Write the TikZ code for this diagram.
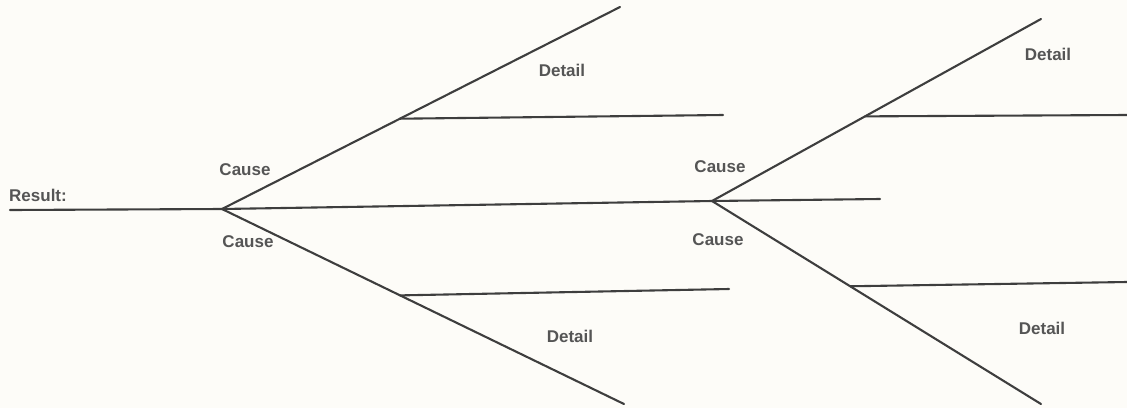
\documentclass[tikz,border=0pt]{standalone}
\usepackage{fontspec}
\setmainfont{Liberation Sans}
\usetikzlibrary{calc}
\definecolor{ink}{HTML}{3E3E3E}
\definecolor{txt}{HTML}{555555}
\definecolor{paper}{HTML}{FDFCF8}
\begin{document}
\begin{tikzpicture}[x=1pt,y=-1pt,
  bone/.style={draw=ink,line width=2.1pt,line cap=round},
  lbl/.style={text=txt,font=\fontsize{17}{19}\selectfont\bfseries,inner sep=0pt}]
\fill[paper] (0,0) rectangle (1127,408);
\useasboundingbox (0,0) rectangle (1127,408);
% coordinates
\coordinate (start) at (10,210);
\coordinate (f1) at (222,209);
\coordinate (f2) at (712,201);
\coordinate (mend) at (880,199);
\coordinate (u1) at (620,7);
\coordinate (d1) at (624,404);
\coordinate (u2) at (1041,19);
\coordinate (d2) at (1041,404);
\coordinate (b1s) at ($(f1)!0.447!(u1)$);
\coordinate (b1e) at (723,115);
\coordinate (b2s) at ($(f1)!0.443!(d1)$);
\coordinate (b2e) at (729,289);
\coordinate (b3s) at ($(f2)!0.465!(u2)$);
\coordinate (b3e) at (1127,115);
\coordinate (b4s) at ($(f2)!0.42!(d2)$);
\coordinate (b4e) at (1127,282);
% spine
\draw[bone] (start) -- (f1) -- (f2) -- (mend);
% left fork
\draw[bone] (f1) -- (u1);
\draw[bone] (f1) -- (d1);
\draw[bone] (b1s) -- (b1e);
\draw[bone] (b2s) -- (b2e);
% right fork
\draw[bone] (f2) -- (u2);
\draw[bone] (f2) -- (d2);
\draw[bone] (b3s) -- (b3e);
\draw[bone] (b4s) -- (b4e);
% labels
\node[lbl,anchor=west] (res) at (9,195) {Result:};
\node[lbl] (c1) at (245,170) {Cause};
\node[lbl] (c2) at (248,242) {Cause};
\node[lbl] (c3) at (720,167) {Cause};
\node[lbl] (c4) at (718,240) {Cause};
\node[lbl] (t1) at (562,70) {Detail};
\node[lbl] (t2) at (570,336) {Detail};
\node[lbl] (t3) at (1048,54) {Detail};
\node[lbl] (t4) at (1042,328) {Detail};
\end{tikzpicture}
\end{document}
